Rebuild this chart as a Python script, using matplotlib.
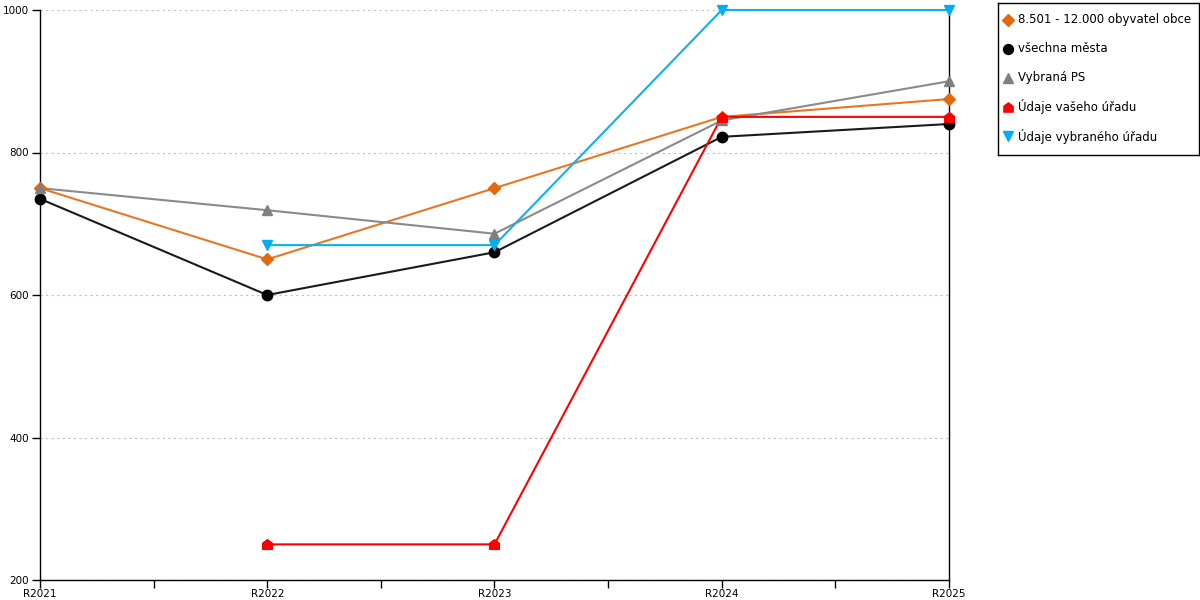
import matplotlib
matplotlib.use("Agg")
import matplotlib.pyplot as plt
import numpy as np
from matplotlib.path import Path

categories = ["R2021", "R2022", "R2023", "R2024", "R2025"]
s_obce = [750, 650, 750, 850, 875]
s_mesta = [735, 600, 660, 822, 840]
s_ps = [750, 719, 686, 845, 900]
s_vas = [None, 250, 250, 850, 850]
s_vybr = [None, 670, 670, 1000, 1000]
labels = ["8.501 - 12.000 obyvatel obce", "všechna města", "Vybraná PS",
          "Údaje vašeho úřadu", "Údaje vybraného úřadu"]
yticks = [200, 400, 600, 800, 1000]

plt.rcParams['font.family'] = ['DejaVu Sans']
plt.rcParams['font.size'] = 7.5

house = Path([(-1, -1), (1, -1), (1, 0.25), (0, 1), (-1, 0.25), (-1, -1)],
             [Path.MOVETO, Path.LINETO, Path.LINETO, Path.LINETO, Path.LINETO, Path.CLOSEPOLY])

W, H = 1200, 600
fig = plt.figure(figsize=(12, 6), dpi=100)
ax = fig.add_axes([40/W, 20/H, 909/W, 570/H])

x = np.arange(len(categories))

def arr(v):
    return np.array([np.nan if a is None else a for a in v], dtype=float)

specs = [
    (s_obce, "#E87722", "D", "#E06A10", 6),
    (s_mesta, "#1a1a1a", "o", "#000000", 7.5),
    (s_ps, "#8a8a8a", "^", "#808080", 7.5),
    (s_vas, "#FF0000", house, "#FF0000", 7),
    (s_vybr, "#10B0EC", "v", "#00B0F0", 7.5),
]
for (vals, lc, mk, mc, ms) in specs:
    ax.plot(x, arr(vals), color=lc, lw=1.5, zorder=3, clip_on=False)
    ax.plot(x, arr(vals), ls="none", marker=mk, color=mc, ms=ms, zorder=4, clip_on=False)

ax.set_xlim(0, 4)
ax.set_ylim(200, 1000)
ax.set_yticks(yticks)
ax.set_xticks(x)
ax.set_xticklabels(categories)
ax.set_xticks(np.arange(0.5, 4, 1), minor=True)
ax.tick_params(axis='x', which='both', direction='out', length=6, width=1, pad=0.5, colors='black')
ax.tick_params(axis='y', direction='out', length=6, width=1, pad=2)
ax.yaxis.grid(True, ls=(0, (2, 3)), color="#c0c0c0", lw=0.8)
ax.set_axisbelow(True)
ax.spines["top"].set_visible(False)
for sp in ["left", "right", "bottom"]:
    ax.spines[sp].set_color("black")
    ax.spines[sp].set_linewidth(1)

# legend box (pixel coordinates inside a dedicated axes)
lx0, ly0, lx1, ly1 = 998, 3, 1199, 155
lax = fig.add_axes([lx0/W, 1 - ly1/H, (lx1 - lx0)/W, (ly1 - ly0)/H])
lax.set_xlim(lx0, lx1)
lax.set_ylim(ly1, ly0)
lax.set_xticks([])
lax.set_yticks([])
for sp in lax.spines.values():
    sp.set_color("black")
    sp.set_linewidth(1)
row_y = [20, 49, 78, 107, 136]
for (vals, lc, mk, mc, ms), lab, yy in zip(specs, labels, row_y):
    lax.plot([1008], [yy], ls="none", marker=mk, color=mc, ms=ms * 0.95)
    lax.text(1018, yy, lab, va="center", ha="left", fontsize=8.5)

fig.savefig("out.png", dpi=100)
